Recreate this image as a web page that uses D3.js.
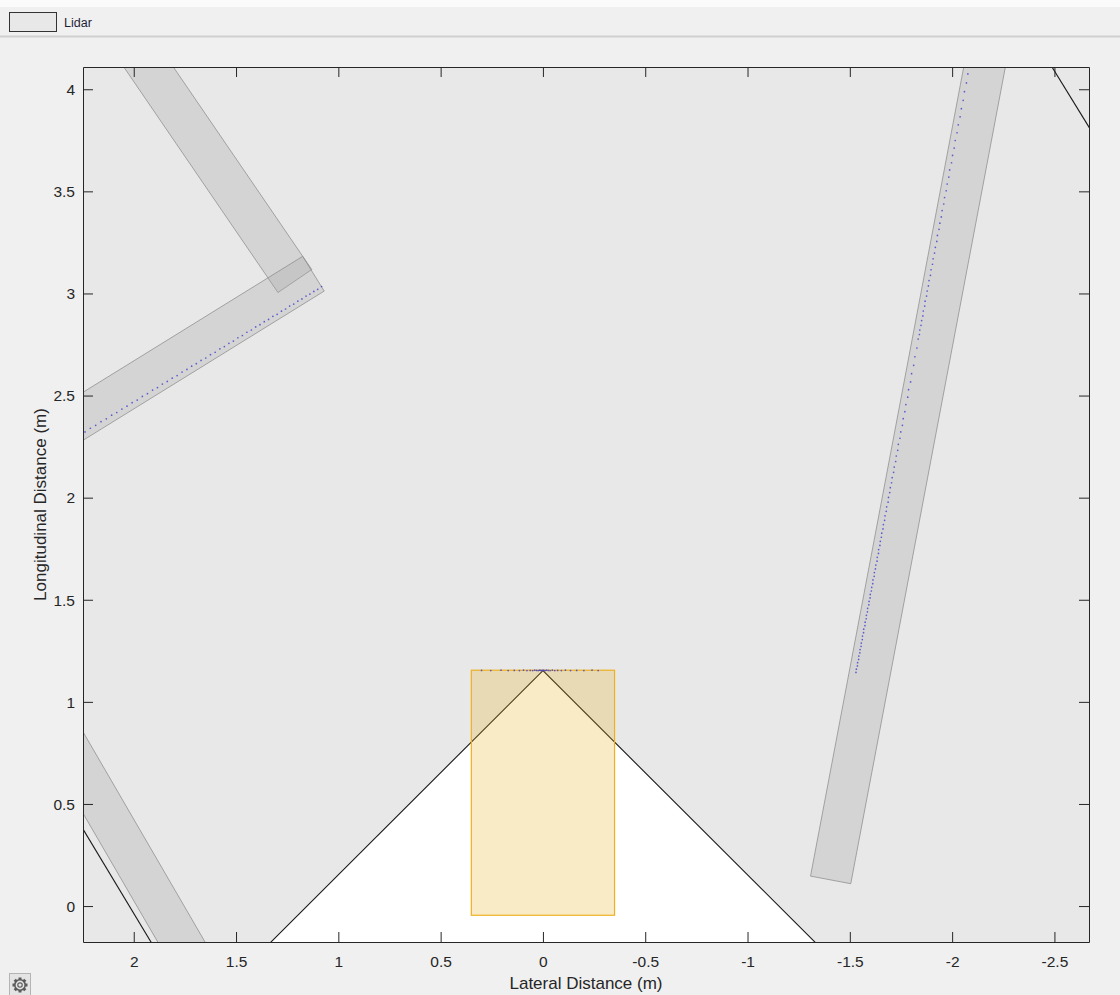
<!DOCTYPE html>
<html>
<head>
<meta charset="utf-8">
<script src="https://cdn.jsdelivr.net/npm/d3@7"></script>
<style>
  body { margin: 0; background: #f0f0f0; }
  svg { display: block; font-family: "Liberation Sans", Arial, Helvetica, sans-serif; }
</style>
</head>
<body>
<svg id="chart" width="1120" height="995"></svg>
<script>
// ---- axis limits and ticks (metres) ----
const xLimits = [2.248, -2.669];          // lateral axis runs right-to-left
const yLimits = [-0.176, 4.109];
const xTicks = [2, 1.5, 1, 0.5, 0, -0.5, -1, -1.5, -2, -2.5];
const yTicks = [0, 0.5, 1, 1.5, 2, 2.5, 3, 3.5, 4];

// ---- lidar sensor: mount position [lateral, longitudinal], heading, field of view, range ----
const sensorPosition = [0, 1.153];
const sensorHeading = 90;
const sensorFov = 270;
const sensorRange = 30;

// ---- ego vehicle footprint ----
const egoLateral = [0.35, -0.35];
const egoLongitudinal = [-0.045, 1.155];

// ---- obstacles: centre, length, width, yaw (deg) ----
const obstacleLateral = [1.776, 2.184, -1.824, 2.247];
const obstacleLongitudinal = [3.887, 2.438, 2.339, 0.652];
const obstacleLength = [2.0, 2.5, 4.5, 2.5];
const obstacleWidth = [0.2, 0.2, 0.2, 0.2];
const obstacleYaw = [55.7, -31.8, 100.7, 59.9];

// ---- boundary lines ----
const boundaryLines = [
  [[2.506, 0.806], [1.733, -0.480]],
  [[-2.331, 4.365], [-2.802, 3.598]]
];

// ---- lidar returns [lateral, longitudinal] ----
const returnsRightWall = [
  [-2.077,4.075],[-2.070,4.031],[-2.060,3.988],[-2.054,3.946],[-2.045,3.905],[-2.039,3.865],[-2.030,3.826],
  [-2.024,3.787],[-2.015,3.749],[-2.010,3.712],[-2.002,3.676],[-1.997,3.640],[-1.988,3.605],[-1.984,3.570],
  [-1.976,3.536],[-1.971,3.503],[-1.963,3.470],[-1.959,3.438],[-1.951,3.406],[-1.947,3.375],[-1.940,3.344],
  [-1.936,3.314],[-1.928,3.284],[-1.925,3.255],[-1.918,3.226],[-1.914,3.198],[-1.907,3.170],[-1.904,3.143],
  [-1.897,3.116],[-1.894,3.089],[-1.887,3.063],[-1.884,3.037],[-1.878,3.012],[-1.875,2.987],[-1.868,2.962],
  [-1.866,2.938],[-1.859,2.914],[-1.857,2.890],[-1.851,2.867],[-1.848,2.844],[-1.842,2.821],[-1.840,2.799],
  [-1.834,2.777],[-1.828,2.733],[-1.818,2.690],[-1.812,2.648],[-1.802,2.607],[-1.797,2.567],[-1.787,2.529],
  [-1.783,2.492],[-1.774,2.456],[-1.769,2.421],[-1.761,2.387],[-1.757,2.354],[-1.749,2.322],[-1.745,2.291],
  [-1.737,2.261],[-1.734,2.232],[-1.727,2.204],[-1.724,2.177],[-1.717,2.150],[-1.714,2.124],[-1.707,2.098],
  [-1.704,2.073],[-1.698,2.049],[-1.695,2.025],[-1.689,2.001],[-1.687,1.978],[-1.680,1.955],[-1.678,1.933],
  [-1.672,1.911],[-1.670,1.889],[-1.664,1.868],[-1.662,1.847],[-1.656,1.826],[-1.654,1.806],[-1.649,1.786],
  [-1.647,1.766],[-1.641,1.746],[-1.640,1.727],[-1.634,1.708],[-1.633,1.689],[-1.627,1.670],[-1.625,1.651],
  [-1.620,1.633],[-1.619,1.615],[-1.613,1.597],[-1.612,1.579],[-1.607,1.561],[-1.605,1.543],[-1.600,1.526],
  [-1.599,1.509],[-1.594,1.492],[-1.593,1.475],[-1.587,1.458],[-1.586,1.441],[-1.581,1.424],[-1.580,1.407],
  [-1.575,1.390],[-1.574,1.373],[-1.568,1.356],[-1.567,1.339],[-1.562,1.322],[-1.561,1.305],[-1.556,1.288],
  [-1.555,1.272],[-1.550,1.256],[-1.549,1.240],[-1.544,1.224],[-1.543,1.208],[-1.538,1.192],[-1.537,1.176],
  [-1.532,1.160],[-1.530,1.144]
];
const returnsLeftWall = [
  [1.082,3.034],[1.101,3.020],[1.120,3.010],[1.139,2.997],[1.158,2.987],[1.178,2.973],[1.198,2.962],
  [1.218,2.948],[1.238,2.938],[1.258,2.924],[1.278,2.913],[1.299,2.898],[1.320,2.888],[1.341,2.873],
  [1.362,2.862],[1.383,2.847],[1.404,2.836],[1.425,2.821],[1.447,2.810],[1.469,2.794],[1.491,2.783],
  [1.513,2.767],[1.535,2.756],[1.557,2.740],[1.579,2.729],[1.602,2.712],[1.625,2.700],[1.648,2.684],
  [1.671,2.672],[1.694,2.656],[1.717,2.644],[1.740,2.628],[1.764,2.615],[1.788,2.598],[1.812,2.585],
  [1.836,2.569],[1.860,2.556],[1.884,2.539],[1.908,2.527],[1.933,2.509],[1.958,2.496],[1.983,2.478],
  [2.008,2.465],[2.033,2.448],[2.058,2.434],[2.083,2.417],[2.108,2.404],[2.134,2.386],[2.160,2.372],
  [2.186,2.354],[2.212,2.340],[2.238,2.322]
];
const returnsEgoFront = [
  [0.300,1.154],[0.255,1.153],[0.205,1.155],[0.170,1.153],[0.140,1.154],[0.115,1.153],[0.095,1.155],
  [0.078,1.153],[0.062,1.154],[0.050,1.153],[0.040,1.155],[0.031,1.154],[0.023,1.153],[0.016,1.155],
  [0.010,1.154],[0.005,1.153],[0.000,1.155],[-0.005,1.154],[-0.011,1.153],[-0.018,1.155],[-0.026,1.154],
  [-0.035,1.153],[-0.046,1.155],[-0.058,1.153],[-0.072,1.154],[-0.090,1.153],[-0.110,1.155],[-0.135,1.153],
  [-0.165,1.154],[-0.200,1.153],[-0.240,1.155],[-0.270,1.153]
];

const legendLabels = ["Lidar"];

// ---- layout ----
const W = 1120, H = 995;
const plot = { left: 83, right: 1089, top: 67, bottom: 942 };
const svg = d3.select("#chart");

const x = d3.scaleLinear().domain(xLimits).range([plot.left, plot.right]);
const y = d3.scaleLinear().domain(yLimits).range([plot.bottom, plot.top]);

// figure background and legend strip
svg.append("rect").attr("width", W).attr("height", H).attr("fill", "#f0f0f0");
svg.append("rect").attr("width", W).attr("height", 7).attr("fill", "#fbfbfb");
svg.append("line").attr("x1", 0).attr("x2", W).attr("y1", 36.5).attr("y2", 36.5)
  .attr("stroke", "#cfcfcf").attr("stroke-width", 2);

const legend = svg.append("g");
legendLabels.forEach((lab, i) => {
  legend.append("rect").attr("x", 9.5).attr("y", 12.5).attr("width", 47).attr("height", 19)
    .attr("fill", "#e8e8e8").attr("stroke", "#333").attr("stroke-width", 1);
  legend.append("text").attr("x", 64).attr("y", 27).attr("font-size", 12.5)
    .attr("fill", "#1e1e38").text(lab);
});

// axes background
svg.append("rect").attr("x", plot.left).attr("y", plot.top)
  .attr("width", plot.right - plot.left).attr("height", plot.bottom - plot.top)
  .attr("fill", "#ffffff");

svg.append("clipPath").attr("id", "plotClip").append("rect")
  .attr("x", plot.left).attr("y", plot.top)
  .attr("width", plot.right - plot.left).attr("height", plot.bottom - plot.top);
const area = svg.append("g").attr("clip-path", "url(#plotClip)");

const toPx = p => [x(p[0]), y(p[1])];
const line = d3.line();

// lidar coverage sector
const a0 = (sensorHeading - sensorFov / 2) * Math.PI / 180;
const a1 = (sensorHeading + sensorFov / 2) * Math.PI / 180;
const sector = [sensorPosition].concat(
  d3.range(0, 73).map(i => {
    const a = a0 + (a1 - a0) * i / 72;
    return [sensorPosition[0] + sensorRange * Math.cos(a), sensorPosition[1] + sensorRange * Math.sin(a)];
  })
);
area.append("path").attr("d", line(sector.map(toPx)) + "Z")
  .attr("fill", "#e8e8e8").attr("stroke", "#1a1a1a").attr("stroke-width", 1.1);

// obstacles
obstacleLateral.forEach((cx, i) => {
  const cy = obstacleLongitudinal[i];
  const t = obstacleYaw[i] * Math.PI / 180;
  const u = [Math.cos(t), Math.sin(t)], n = [-Math.sin(t), Math.cos(t)];
  const hl = obstacleLength[i] / 2, hw = obstacleWidth[i] / 2;
  const corners = [[hl, hw], [hl, -hw], [-hl, -hw], [-hl, hw]].map(([a, b]) =>
    [cx + a * u[0] + b * n[0], cy + a * u[1] + b * n[1]]);
  area.append("path").attr("d", line(corners.map(toPx)) + "Z")
    .attr("fill", "#a6a6a6").attr("fill-opacity", 0.3)
    .attr("stroke", "#8c8c8c").attr("stroke-opacity", 0.75).attr("stroke-width", 1);
});

// boundary lines
boundaryLines.forEach(seg => {
  area.append("path").attr("d", line(seg.map(toPx)))
    .attr("fill", "none").attr("stroke", "#1a1a1a").attr("stroke-width", 1.1);
});

// ego vehicle
area.append("rect")
  .attr("x", x(egoLateral[0])).attr("y", y(egoLongitudinal[1]))
  .attr("width", x(egoLateral[1]) - x(egoLateral[0]))
  .attr("height", y(egoLongitudinal[0]) - y(egoLongitudinal[1]))
  .attr("fill", "#EDB120").attr("fill-opacity", 0.25)
  .attr("stroke", "#EDB120").attr("stroke-width", 1.2);

// point cloud
const pts = returnsRightWall.concat(returnsLeftWall, returnsEgoFront);
area.append("g").selectAll("circle").data(pts).join("circle")
  .attr("cx", d => x(d[0])).attr("cy", d => y(d[1])).attr("r", 0.85)
  .attr("fill", "#3434cc").attr("fill-opacity", 0.75);

// axes
const axisColor = "#262626";
const fmt = d => String(d);
function styleAxis(g) {
  g.selectAll("path.domain").attr("stroke", axisColor).attr("stroke-width", 1);
  g.selectAll(".tick line").attr("stroke", axisColor).attr("stroke-width", 1);
  g.selectAll(".tick text").attr("fill", axisColor).attr("font-size", 15.5)
    .attr("font-family", "\"Liberation Sans\", Arial, sans-serif");
}
svg.append("g").attr("transform", `translate(0,${plot.bottom})`)
  .call(d3.axisBottom(x).tickValues(xTicks).tickFormat(fmt).tickSizeInner(-10).tickSizeOuter(0).tickPadding(14))
  .call(styleAxis);
svg.append("g").attr("transform", `translate(0,${plot.top})`)
  .call(d3.axisTop(x).tickValues(xTicks).tickFormat("").tickSizeInner(-10).tickSizeOuter(0))
  .call(styleAxis);
svg.append("g").attr("transform", `translate(${plot.left},0)`)
  .call(d3.axisLeft(y).tickValues(yTicks).tickFormat(fmt).tickSizeInner(-10).tickSizeOuter(0).tickPadding(8))
  .call(styleAxis)
  .selectAll(".tick text").attr("dy", "0.34em");
svg.append("g").attr("transform", `translate(${plot.right},0)`)
  .call(d3.axisRight(y).tickValues(yTicks).tickFormat("").tickSizeInner(-10).tickSizeOuter(0))
  .call(styleAxis);

// axis titles
svg.append("text").attr("x", (plot.left + plot.right) / 2).attr("y", 989)
  .attr("text-anchor", "middle").attr("font-size", 17).attr("fill", axisColor)
  .text("Lateral Distance (m)");
svg.append("text")
  .attr("transform", `translate(46,${(plot.top + plot.bottom) / 2}) rotate(-90)`)
  .attr("text-anchor", "middle").attr("font-size", 17).attr("fill", axisColor)
  .text("Longitudinal Distance (m)");

// settings button in the corner
const gear = svg.append("g").attr("transform", "translate(20,985)");
gear.append("rect").attr("x", -10.5).attr("y", -11.5).attr("width", 21).attr("height", 22)
  .attr("fill", "#e4e4e4").attr("stroke", "#b4b4b4");
d3.range(8).forEach(k => {
  gear.append("rect").attr("x", -1.5).attr("y", -7.5).attr("width", 3).attr("height", 3)
    .attr("fill", "#5a5a5a").attr("transform", `rotate(${k * 45})`);
});
gear.append("circle").attr("r", 5.2).attr("fill", "#e4e4e4").attr("stroke", "#5a5a5a").attr("stroke-width", 1.6);
gear.append("circle").attr("r", 2.2).attr("fill", "none").attr("stroke", "#5a5a5a").attr("stroke-width", 1.2);
</script>
</body>
</html>
